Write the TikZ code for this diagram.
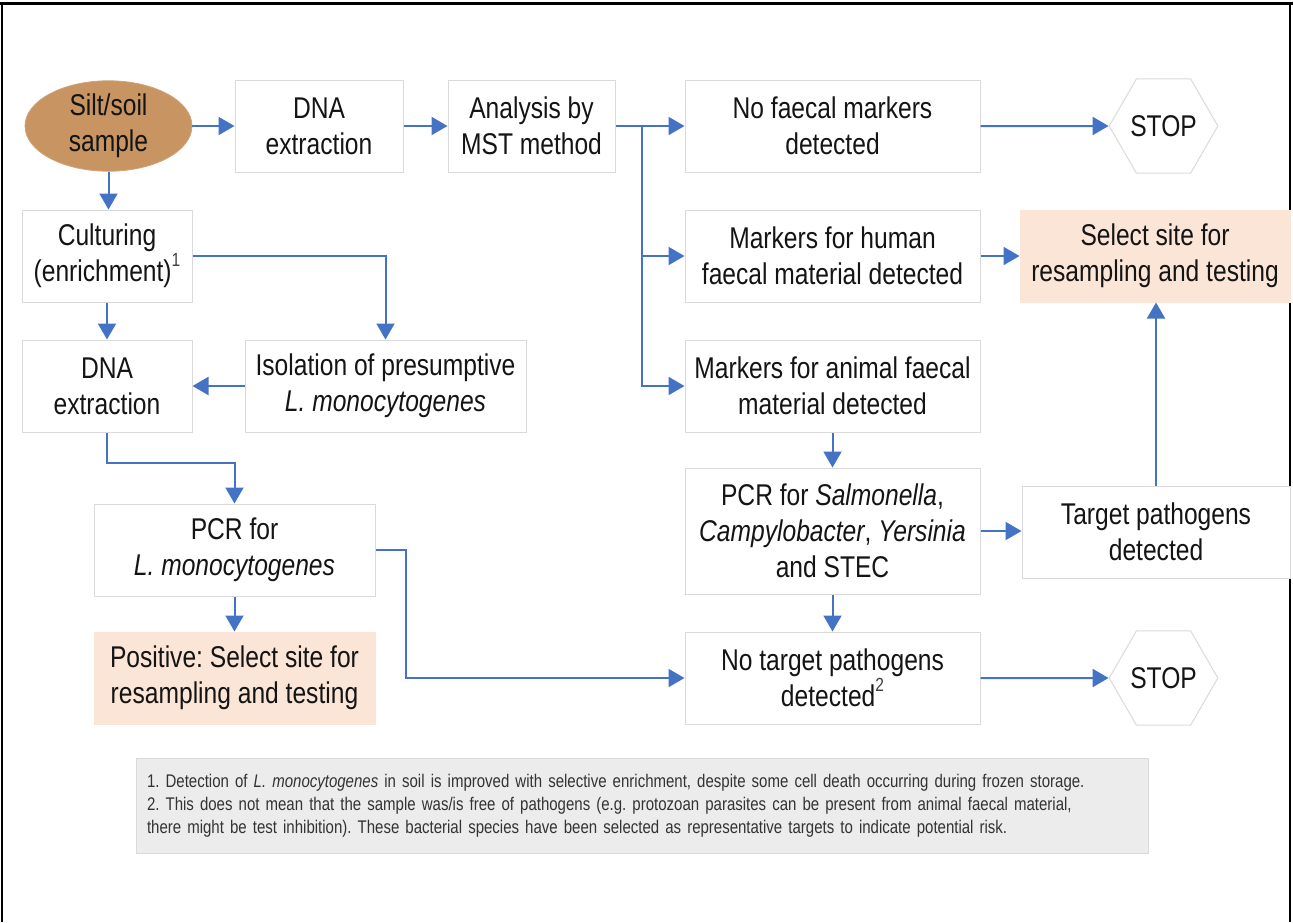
\documentclass[tikz,border=0pt]{standalone}
\usepackage{fontspec}
\setmainfont{Liberation Sans}[FakeStretch=0.82]
\usetikzlibrary{arrows.meta,shapes.geometric}
\definecolor{arrblue}{RGB}{68,114,196}
\definecolor{boxline}{RGB}{218,218,218}
\definecolor{peach}{RGB}{251,229,214}
\definecolor{soil}{RGB}{199,148,98}
\definecolor{notegray}{RGB}{236,236,236}
\definecolor{txt}{RGB}{20,20,20}
\newcommand{\supmark}[1]{\raisebox{0.5em}{\fontsize{9.5pt}{9.5pt}\selectfont\color{black!75}#1}}
\begin{document}
\frenchspacing
\begin{tikzpicture}[x=0.5pt,y=-0.5pt,
  every node/.style={text=txt,font=\fontsize{15pt}{18pt}\selectfont},
  box/.style={draw=boxline,line width=0.5pt,fill=white,minimum height=46pt,align=center,inner sep=0pt},
  hl/.style={box,fill=peach,draw=peach},
  hexa/.style={regular polygon,regular polygon sides=6,draw=boxline,line width=0.5pt,minimum size=53.5pt,inner sep=0pt},
  arr/.style={draw=arrblue,line width=1pt,-{Triangle[length=8pt,width=9pt]}},
  ln/.style={draw=arrblue,line width=1pt}]
\useasboundingbox (0,0) rectangle (1293,922);
% frame
\draw[line width=1.5pt] (0,3.5) -- (1293,3.5);
\draw[line width=1pt] (1.5,3) -- (1.5,922);
\draw[line width=1pt] (1289.5,3) -- (1289.5,922);
% nodes
\node[ellipse,fill=soil,draw=soil!85!white,minimum width=83.5pt,minimum height=42pt,inner sep=0pt,align=center] (soil) at (108.5,126) {Silt/soil\\sample};
\node[box,minimum width=84pt] (dna1) at (319,126) {DNA\\extraction};
\node[box,minimum width=83.5pt] (mst) at (531.5,126) {Analysis by\\MST method};
\node[box,minimum width=147.5pt] (nofaecal) at (832.5,126) {No faecal markers\\detected};
\node[hexa] (stop1) at (1163.5,126) {STOP};
\node[box,minimum width=147.5pt] (human) at (832.5,256) {Markers for human\\faecal material detected};
\node[hl,minimum width=135pt] (select1) at (1155,256) {Select site for\\resampling and testing};
\node[box,minimum width=147.5pt] (animal) at (832.5,386) {Markers for animal faecal\\material detected};
\node[box,minimum width=147.5pt,minimum height=63pt] (pcrs) at (832.5,531) {PCR for \textit{Salmonella},\\\textit{Campylobacter}, \textit{Yersinia}\\and STEC};
\node[box,minimum width=134pt] (target) at (1156,532) {Target pathogens\\detected};
\node[box,minimum width=147.5pt] (notarget) at (832.5,678) {No target pathogens\\detected\supmark{2}};
\node[hexa] (stop2) at (1163.5,678) {STOP};
\node[box,minimum width=85pt] (cult) at (107,256) {Culturing\\(enrichment)\supmark{1}};
\node[box,minimum width=85pt] (dna2) at (107,386) {DNA\\extraction};
\node[box,minimum width=140.5pt] (iso) at (385.5,386) {Isolation of presumptive\\\textit{L. monocytogenes}};
\node[box,minimum width=140.5pt] (pcrl) at (234.5,550) {PCR for\\\textit{L. monocytogenes}};
\node[hl,minimum width=140.5pt] (pos) at (234.5,678) {Positive: Select site for\\resampling and testing};
\node[fill=notegray,draw=boxline,line width=0.5pt,minimum width=506pt,minimum height=47.5pt,text width=495pt,align=left,inner xsep=5.5pt,inner ysep=0pt,text=black!80,font=\fontsize{9.15pt}{11.5pt}\selectfont] (note) at (642,805.5)
{1. Detection of \textit{L. monocytogenes} in soil is improved with selective enrichment, despite some cell death occurring during frozen storage.\\
2. This does not mean that the sample was/is free of pathogens (e.g. protozoan parasites can be present from animal faecal material,\\
there might be test inhibition). These bacterial species have been selected as representative targets to indicate potential risk.};
% connectors
\coordinate (br) at (642,126);
\draw[arr] (soil.east) -- (dna1.west);
\draw[arr] (dna1.east) -- (mst.west);
\draw[arr] (mst.east) -- (nofaecal.west);
\draw[ln] (br) -- (br |- animal.west);
\draw[arr] (br) |- (human.west);
\draw[arr] (br) |- (animal.west);
\draw[arr] (nofaecal.east) -- (stop1.west);
\draw[arr] (human.east) -- (select1.west);
\draw[arr] (animal.south) -- (pcrs.north);
\draw[arr] (pcrs.east) -- (pcrs.east -| target.west);
\draw[arr] (target.north) -- (target.north |- select1.south);
\draw[arr] (pcrs.south) -- (notarget.north);
\draw[arr] (notarget.east) -- (stop2.west);
\draw[arr] (soil.south) -- (soil.south |- cult.north);
\draw[arr] (cult.east) -| (iso.north);
\draw[arr] (cult.south) -- (dna2.north);
\draw[arr] (iso.west) -- (dna2.east);
\draw[arr] (dna2.south) -- ++(0,30) -| (pcrl.north);
\draw[arr] (pcrl.south) -- (pos.north);
\draw[arr] (pcrl.east) -- ++(30,0) |- (notarget.west);
\end{tikzpicture}
\end{document}
